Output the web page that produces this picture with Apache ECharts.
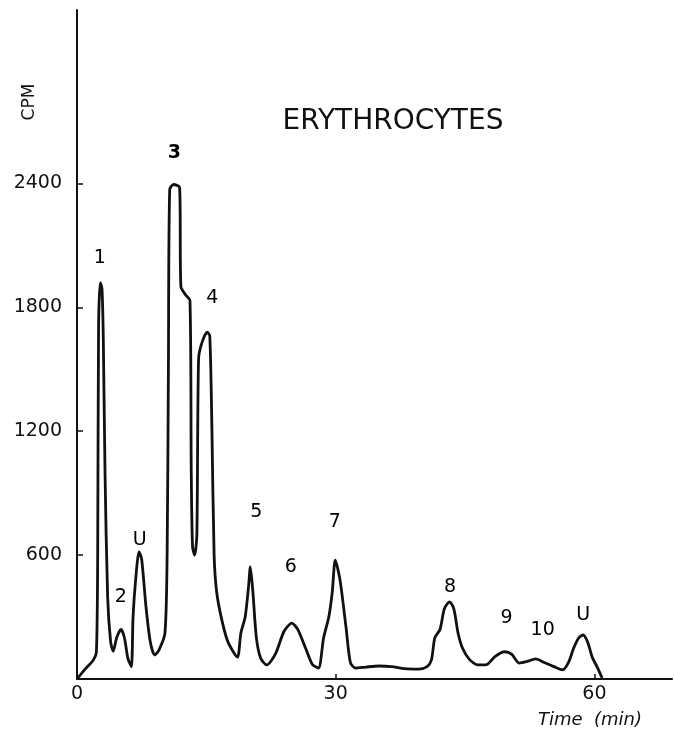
<!DOCTYPE html>
<html>
<head>
<meta charset="utf-8">
<script src="https://cdn.jsdelivr.net/npm/echarts@6/dist/echarts.min.js"></script>
<style>
html, body { margin: 0; padding: 0; background: #fff; }
#chart { width: 674px; height: 737px; }
</style>
</head>
<body>
<div id="chart"></div>
<script>
// elution profile, [time (min), CPM]
var profile = [
    [0, 0], [1.0, 50], [1.9, 92], [2.25, 130], [2.4, 600], [2.5, 1700], [2.7, 1920], [2.9, 1890],
    [3.05, 1650], [3.25, 1000], [3.55, 400], [3.9, 180], [4.2, 135], [4.6, 200], [5.1, 240],
    [5.5, 200], [5.9, 100], [6.3, 60], [6.5, 300], [6.8, 480], [7.2, 616], [7.5, 580],
    [8.0, 350], [8.5, 180], [9.0, 116], [9.5, 140], [10.2, 222], [10.45, 600], [10.6, 1500],
    [10.75, 2370], [11.2, 2395], [11.9, 2380], [12.05, 1900], [12.6, 1860], [13.1, 1834],
    [13.25, 1000], [13.4, 640], [13.65, 600], [13.9, 700], [14.1, 1550], [14.5, 1630],
    [15.1, 1680], [15.4, 1660], [15.65, 1200], [15.9, 600], [16.2, 420], [16.8, 285],
    [17.5, 180], [18.6, 106], [19.0, 222], [19.5, 300], [19.9, 450], [20.1, 543], [20.4, 420],
    [20.8, 200], [21.3, 100], [22.0, 68], [23.0, 120], [24.0, 230], [24.9, 271], [25.6, 240],
    [26.5, 150], [27.3, 70], [28.0, 53], [28.6, 200], [29.2, 300], [29.6, 420], [29.95, 576],
    [30.5, 480], [31.2, 250], [31.7, 80], [32.3, 53], [33.5, 58], [35.0, 63], [36.5, 60],
    [38.0, 50], [39.6, 48], [40.6, 60], [41.1, 92], [41.5, 200], [42.1, 240], [42.6, 340],
    [43.2, 374], [43.7, 340], [44.2, 220], [44.7, 150], [45.5, 95], [46.5, 68], [47.5, 70],
    [48.5, 110], [49.6, 132], [50.4, 120], [51.3, 77], [52.2, 85], [53.2, 97], [54.2, 80],
    [55.3, 60], [56.3, 44], [57.0, 80], [57.6, 150], [58.2, 200], [58.7, 213], [59.2, 180],
    [59.8, 100], [60.3, 60], [60.9, 5]
];

// peak labels: position in data units and text
var peakLabelX = [2.65, 5.07, 7.27, 11.3, 15.7, 20.8, 24.8, 29.9, 43.25, 49.8, 54.0, 58.7];
var peakLabelY = [2037, 397, 672, 2545, 1843, 808, 542, 760, 445, 295, 237, 310];
var peakLabelText = ['1', '2', 'U', '3', '4', '5', '6', '7', '8', '9', '10', 'U'];

var xTicks = [0, 30, 60];
var yTicks = [600, 1200, 1800, 2400];

var labelData = peakLabelX.map(function (x, i) {
    return {
        value: [x, peakLabelY[i], peakLabelText[i]],
        label: peakLabelText[i] === '3' ? { fontWeight: 'bold' } : {}
    };
});

var chart = echarts.init(document.getElementById('chart'));
var font = 'DejaVu Sans';

chart.setOption({
    animation: false,
    backgroundColor: '#fff',
    title: {
        text: 'ERYTHROCYTES',
        left: 388,
        top: 103,
        textAlign: 'center',
        textStyle: { fontFamily: font, fontSize: 28, fontWeight: 'normal', color: '#111' }
    },
    grid: { left: 77, right: 2, top: 10, bottom: 58 },
    xAxis: {
        type: 'value',
        min: 0,
        max: 69,
        interval: 30,
        splitLine: { show: false },
        axisLine: { lineStyle: { color: '#111', width: 2 } },
        axisTick: { inside: true, length: 5, customValues: [30, 60], lineStyle: { color: '#111', width: 1.5 } },
        axisLabel: { customValues: xTicks, margin: 6, fontFamily: font, fontSize: 19, color: '#111' }
    },
    yAxis: {
        type: 'value',
        min: 0,
        max: 3240,
        interval: 600,
        splitLine: { show: false },
        axisLine: { lineStyle: { color: '#111', width: 2 } },
        axisTick: { inside: true, length: 6, customValues: yTicks, lineStyle: { color: '#111', width: 1.5 } },
        axisLabel: {
            customValues: yTicks,
            margin: 15,
            formatter: function (v) { return String(v); },
            fontFamily: font, fontSize: 19, color: '#111'
        }
    },
    graphic: [
        {
            type: 'text',
            x: 30, y: 102,
            rotation: Math.PI / 2,
            style: { text: 'CPM', fontFamily: font, fontSize: 17, fill: '#111', align: 'center', verticalAlign: 'middle' }
        },
        {
            type: 'text',
            x: 590, y: 720,
            style: { text: 'Time  (min)', fontFamily: font, fontSize: 18, fontStyle: 'italic', fill: '#111', align: 'center', verticalAlign: 'middle' }
        }
    ],
    series: [
        {
            type: 'line',
            data: profile,
            showSymbol: false,
            smooth: 0.25,
            lineStyle: { color: '#111', width: 2.8 }
        },
        {
            type: 'scatter',
            data: labelData,
            symbolSize: 0,
            itemStyle: { opacity: 1 },
            label: {
                show: true,
                position: 'inside',
                formatter: function (p) { return p.value[2]; },
                fontFamily: font,
                fontSize: 19,
                color: '#000'
            }
        }
    ]
});
</script>
</body>
</html>
